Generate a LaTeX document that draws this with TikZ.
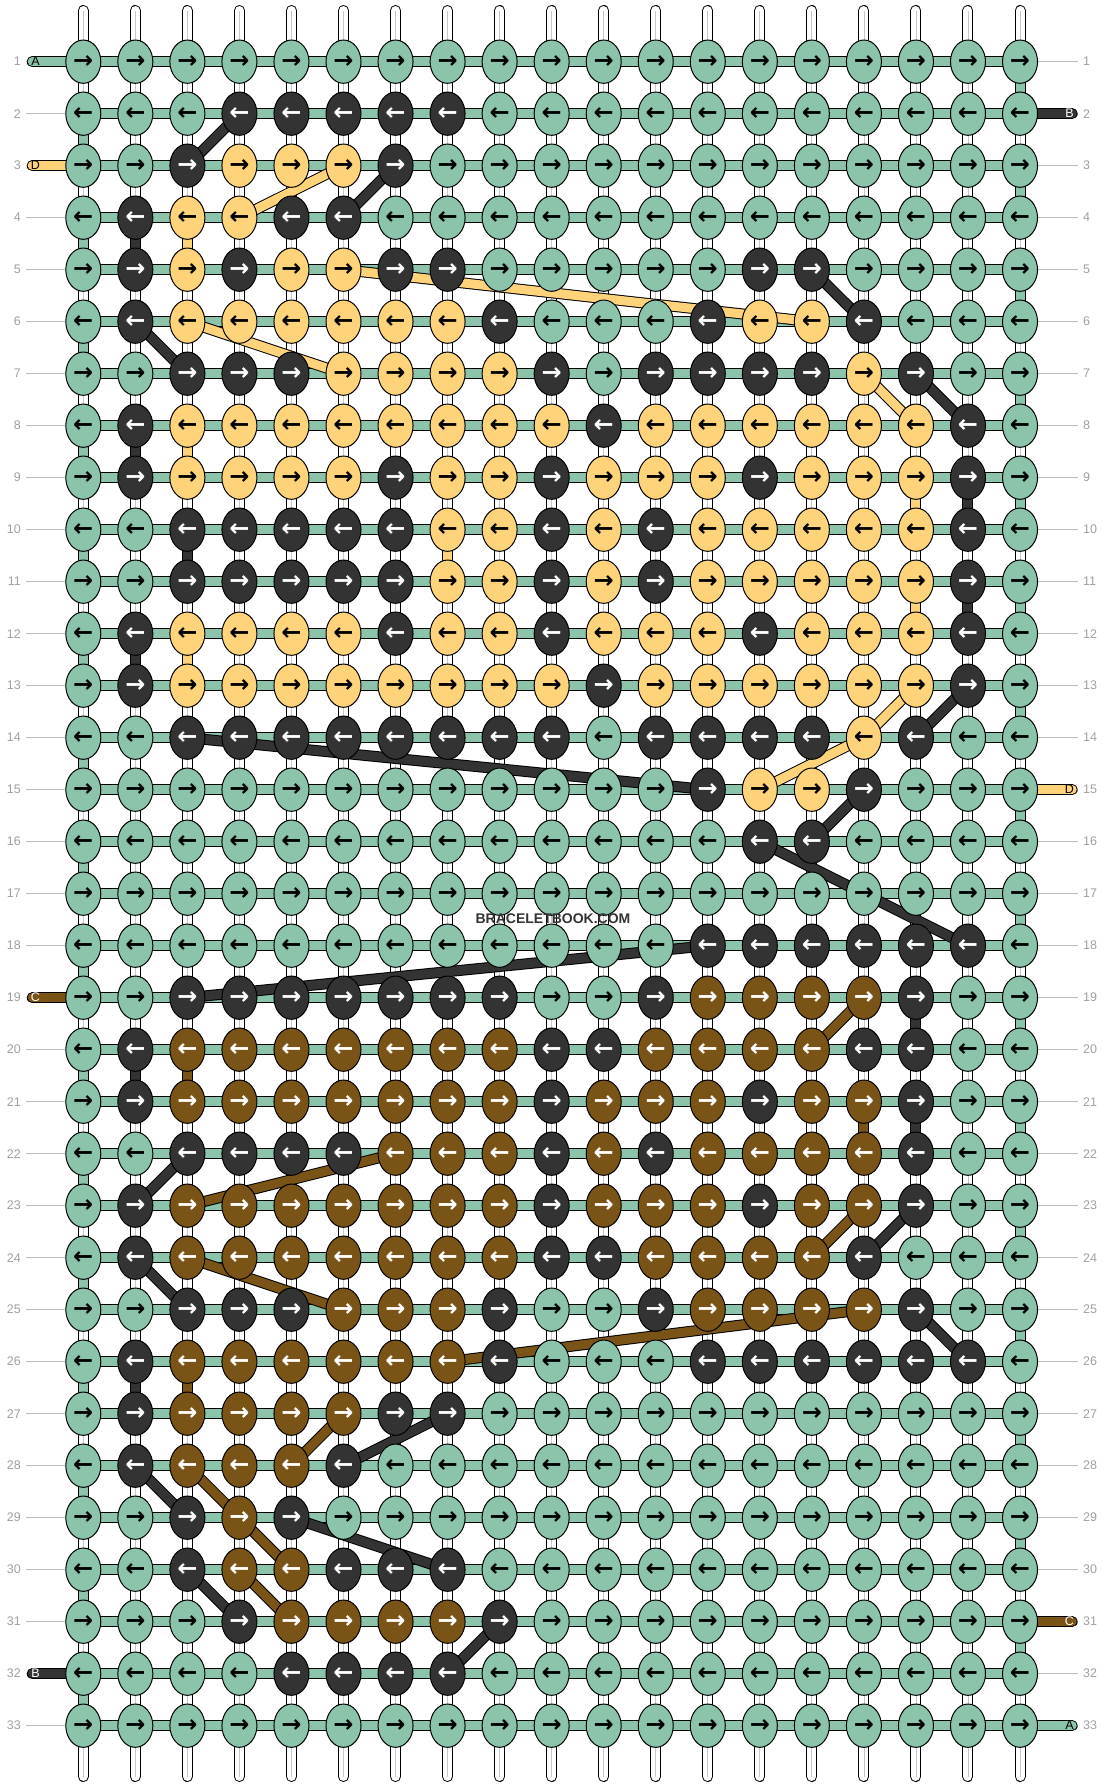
\documentclass[tikz,border=0pt]{standalone}
\usepackage{fontspec}
\setmainfont{Liberation Sans}
\newfontfamily\fonteseta{DejaVu Sans}
\usetikzlibrary{shapes.geometric}
\definecolor{verde}{RGB}{139,196,170}
\definecolor{preto}{RGB}{51,51,51}
\definecolor{amarelo}{RGB}{255,211,122}
\definecolor{marrom}{RGB}{122,84,23}
\definecolor{cinza}{RGB}{160,160,160}
\pgfdeclarelayer{fundo}
\pgfdeclarelayer{background}
\pgfsetlayers{fundo,background,main}
\tikzset{
no/.style = {ellipse, draw=black, line width=1, minimum width=35, minimum height=43.3,
             inner sep=0, font=\fonteseta\bfseries\fontsize{24}{24}\selectfont},
cor g/.style = {fill=verde, text=black},
cor k/.style = {fill=preto, text=white},
cor y/.style = {fill=amarelo, text=black},
cor b/.style = {fill=marrom, text=white}
         }
\tikzset{
corda/.style = {line width=1, double=white, double distance=9, line cap=round},
miolo/.style = {draw=black!22, line width=0.8},
barra/.style = {line width=1, double=verde, double distance=9},
fio/.style = {line width=1, double distance=9},
ponta/.style = {line width=1, double distance=9, line cap=round},
guia/.style = {draw=cinza!70, line width=1},
rotulo/.style = {text=cinza, font=\fontsize{12.5}{12.5}\selectfont, inner sep=0},
letra/.style = {font=\fontsize{12.5}{12.5}\selectfont, inner sep=0},
marca/.style = {text=preto, font=\bfseries\fontsize{14}{14}\selectfont, inner sep=0}
         }

\begin{document}
\begin{tikzpicture}[x=1pt,y=-1pt]
    \useasboundingbox (0,0) rectangle (1104,1788);

    % nos do padrao
    \foreach \l/\cores in {
        1/{g,g,g,g,g,g,g,g,g,g,g,g,g,g,g,g,g,g,g},
        2/{g,g,g,k,k,k,k,k,g,g,g,g,g,g,g,g,g,g,g},
        3/{g,g,k,y,y,y,k,g,g,g,g,g,g,g,g,g,g,g,g},
        4/{g,k,y,y,k,k,g,g,g,g,g,g,g,g,g,g,g,g,g},
        5/{g,k,y,k,y,y,k,k,g,g,g,g,g,k,k,g,g,g,g},
        6/{g,k,y,y,y,y,y,y,k,g,g,g,k,y,y,k,g,g,g},
        7/{g,g,k,k,k,y,y,y,y,k,g,k,k,k,k,y,k,g,g},
        8/{g,k,y,y,y,y,y,y,y,y,k,y,y,y,y,y,y,k,g},
        9/{g,k,y,y,y,y,k,y,y,k,y,y,y,k,y,y,y,k,g},
        10/{g,g,k,k,k,k,k,y,y,k,y,k,y,y,y,y,y,k,g},
        11/{g,g,k,k,k,k,k,y,y,k,y,k,y,y,y,y,y,k,g},
        12/{g,k,y,y,y,y,k,y,y,k,y,y,y,k,y,y,y,k,g},
        13/{g,k,y,y,y,y,y,y,y,y,k,y,y,y,y,y,y,k,g},
        14/{g,g,k,k,k,k,k,k,k,k,g,k,k,k,k,y,k,g,g},
        15/{g,g,g,g,g,g,g,g,g,g,g,g,k,y,y,k,g,g,g},
        16/{g,g,g,g,g,g,g,g,g,g,g,g,g,k,k,g,g,g,g},
        17/{g,g,g,g,g,g,g,g,g,g,g,g,g,g,g,g,g,g,g},
        18/{g,g,g,g,g,g,g,g,g,g,g,g,k,k,k,k,k,k,g},
        19/{g,g,k,k,k,k,k,k,k,g,g,k,b,b,b,b,k,g,g},
        20/{g,k,b,b,b,b,b,b,b,k,k,b,b,b,b,k,k,g,g},
        21/{g,k,b,b,b,b,b,b,b,k,b,b,b,k,b,b,k,g,g},
        22/{g,g,k,k,k,k,b,b,b,k,b,k,b,b,b,b,k,g,g},
        23/{g,k,b,b,b,b,b,b,b,k,b,b,b,k,b,b,k,g,g},
        24/{g,k,b,b,b,b,b,b,b,k,k,b,b,b,b,k,g,g,g},
        25/{g,g,k,k,k,b,b,b,k,g,g,k,b,b,b,b,k,g,g},
        26/{g,k,b,b,b,b,b,b,k,g,g,g,k,k,k,k,k,k,g},
        27/{g,k,b,b,b,b,k,k,g,g,g,g,g,g,g,g,g,g,g},
        28/{g,k,b,b,b,k,g,g,g,g,g,g,g,g,g,g,g,g,g},
        29/{g,g,k,b,k,g,g,g,g,g,g,g,g,g,g,g,g,g,g},
        30/{g,g,k,b,b,k,k,k,g,g,g,g,g,g,g,g,g,g,g},
        31/{g,g,g,k,b,b,b,b,k,g,g,g,g,g,g,g,g,g,g},
        32/{g,g,g,g,k,k,k,k,g,g,g,g,g,g,g,g,g,g,g},
        33/{g,g,g,g,g,g,g,g,g,g,g,g,g,g,g,g,g,g,g}}{
        \ifodd\l \def\seta{→}\else \def\seta{←}\fi
        \foreach \cor [count=\c] in \cores {
            \node[no, cor \cor] (k-\l-\c) at ({83.3+(\c-1)*52.04},{61.67+(\l-1)*52}) {\seta};
        }
    }

    % numeros das linhas
    \foreach \l in {1,...,33} {
        \node[rotulo, anchor=east] (esq-\l) at (21,{61.67+(\l-1)*52}) {\l};
        \node[rotulo, anchor=west] (dir-\l) at (1083,{61.67+(\l-1)*52}) {\l};
    }

    \node[marca] (marca) at (553,919) {BRACELETBOOK.COM};

    \begin{pgfonlayer}{fundo}
        % cordas verticais
        \foreach \c in {1,...,19} {
            \coordinate (topo-\c) at ({83.3+(\c-1)*52.04},10.5);
            \coordinate (base-\c) at ({83.3+(\c-1)*52.04},1776.5);
            \draw[corda] (topo-\c) -- (base-\c);
            \draw[miolo] (topo-\c) -- (base-\c);
        }
        % barras horizontais
        \foreach \l in {1,...,33}
            \draw[barra] (k-\l-1.center) -- (k-\l-19.center);
        % linhas guia
        \foreach \l in {2,4,5,6,7,8,9,10,11,12,13,14,15,16,17,18,20,21,22,23,24,25,26,27,28,29,30,31,33} {
            \coordinate (ge-\l) at (26,{61.67+(\l-1)*52});
            \draw[guia] (ge-\l) -- (k-\l-1.west);
        }
        \foreach \l in {1,3,4,5,6,7,8,9,10,11,12,13,14,16,17,18,19,20,21,22,23,24,25,26,27,28,29,30,32} {
            \coordinate (gd-\l) at (1078,{61.67+(\l-1)*52});
            \draw[guia] (k-\l-19.east) -- (gd-\l);
        }
    \end{pgfonlayer}

    \begin{pgfonlayer}{background}
        % pontas dos fios
        \foreach \l/\cor/\letra/\tl in {1/verde/A/black, 3/amarelo/D/black, 19/marrom/C/white, 32/preto/B/white} {
            \coordinate (pe-\l) at (32.2,{61.67+(\l-1)*52});
            \draw[ponta, double=\cor] (pe-\l) -- (k-\l-1.center);
            \node[letra, text=\tl] (le-\l) at (35.5,{61.67+(\l-1)*52}) {\letra};
        }
        \foreach \l/\cor/\letra/\tl in {2/preto/B/white, 15/amarelo/D/black, 31/marrom/C/white, 33/verde/A/black} {
            \coordinate (pd-\l) at (1072.2,{61.67+(\l-1)*52});
            \draw[ponta, double=\cor] (k-\l-19.center) -- (pd-\l);
            \node[letra, text=\tl] (ld-\l) at (1069.5,{61.67+(\l-1)*52}) {\letra};
        }
        % fio verde nas bordas
        \foreach \l [evaluate=\l as \p using int(\l+1)] in {1,3,...,31}
            \draw[fio, double=verde] (k-\l-19.center) -- (k-\p-19.center);
        \foreach \l [evaluate=\l as \p using int(\l+1)] in {2,4,...,32}
            \draw[fio, double=verde] (k-\l-1.center) -- (k-\p-1.center);
        % fio amarelo
        \foreach \la/\ca/\lb/\cb in {3/6/4/4, 4/3/5/3, 5/6/6/15, 6/3/7/6, 7/16/8/17, 8/3/9/3,
                9/17/10/17, 10/8/11/8, 11/17/12/17, 12/3/13/3, 13/17/14/16, 14/16/15/14}
            \draw[fio, double=amarelo] (k-\la-\ca.center) -- (k-\lb-\cb.center);
        % fio marrom
        \foreach \la/\ca/\lb/\cb in {19/16/20/15, 20/3/21/3, 21/16/22/16, 22/7/23/3, 23/16/24/15,
                24/3/25/6, 25/16/26/8, 26/3/27/3, 27/6/28/5, 28/3/29/4, 29/4/30/5, 30/4/31/5}
            \draw[fio, double=marrom] (k-\la-\ca.center) -- (k-\lb-\cb.center);
        % fio preto
        \foreach \la/\ca/\lb/\cb in {2/4/3/3, 3/7/4/6, 4/2/5/2, 5/15/6/16, 6/2/7/3, 7/17/8/18,
                8/2/9/2, 9/18/10/18, 10/3/11/3, 11/18/12/18, 12/2/13/2, 13/18/14/17,
                14/3/15/13, 15/16/16/15, 16/14/18/18, 18/13/19/3, 19/17/20/17, 20/2/21/2,
                21/17/22/17, 22/3/23/2, 23/17/24/16, 24/2/25/3, 25/17/26/18, 26/2/27/2,
                27/8/28/6, 28/2/29/3, 29/5/30/8, 30/3/31/4, 31/9/32/8}
            \draw[fio, double=preto] (k-\la-\ca.center) -- (k-\lb-\cb.center);
    \end{pgfonlayer}
\end{tikzpicture}
\end{document}
